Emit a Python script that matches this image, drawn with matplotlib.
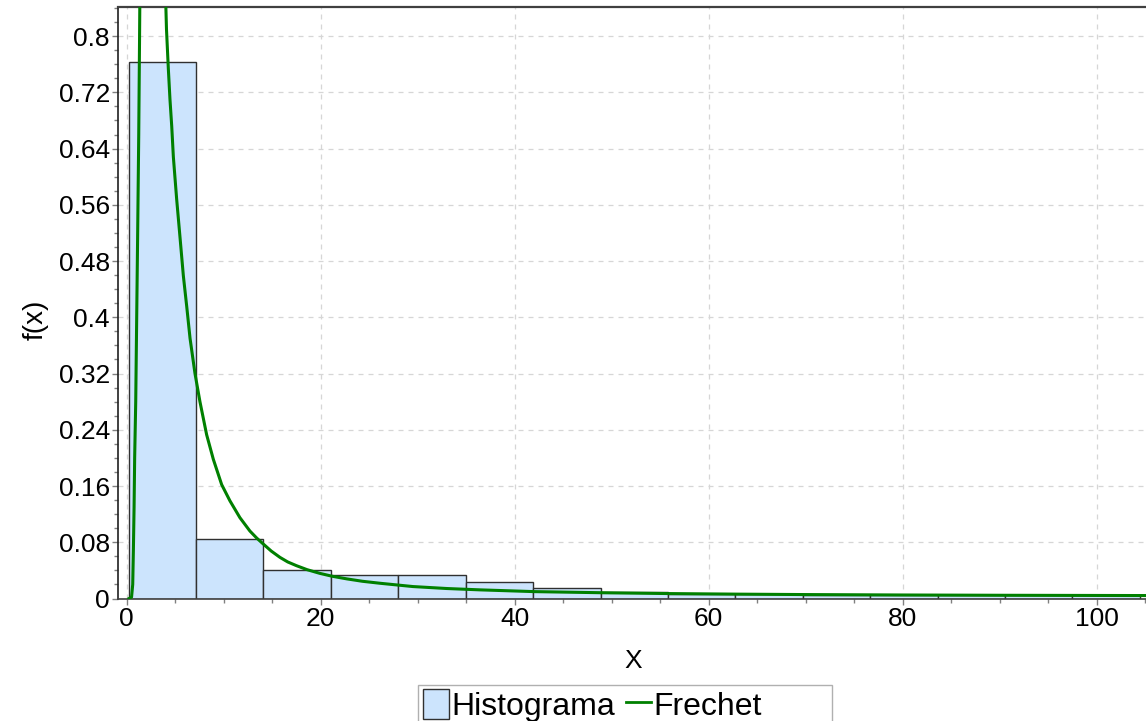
import numpy as np
import matplotlib
matplotlib.use("Agg")
from matplotlib import pyplot as plt
from matplotlib.patches import Patch, Rectangle
from matplotlib.lines import Line2D
from matplotlib.ticker import MultipleLocator

plt.rcParams['font.family'] = ['Liberation Sans', 'DejaVu Sans']

# histogram bins (edges) and relative frequencies
bin_edges = [0.2, 7.15, 14.1, 21.05, 28.0, 34.95, 41.9, 48.85, 55.8,
             62.75, 69.7, 76.65, 83.6, 90.55, 97.5, 104.45]
bin_heights = [0.763, 0.0845, 0.0405, 0.033, 0.033, 0.023, 0.0155, 0.0095,
               0.0065, 0.0058, 0.005, 0.005, 0.0045, 0.0045, 0.0045]

# fitted Frechet density (peak is off the top)
curve_x = [0.24, 0.5, 0.62, 0.69, 0.76, 0.82, 0.93, 1.03, 1.13, 1.24, 1.32, 1.36,
           4.0, 4.1, 4.29, 4.46, 4.64, 4.81, 5.15, 5.5, 5.84, 6.19, 6.53, 7.04,
           7.55, 8.24, 8.93, 9.79, 10.64, 11.67, 12.7, 13.4, 14.08, 14.9, 15.8,
           16.6, 17.5, 18.6, 19.9, 21.2, 22.7, 24.3, 26.1, 29.5, 33.0, 36.4,
           42, 49, 56, 63, 70, 80, 90, 105]
curve_y = [0.0, 0.002, 0.02, 0.07, 0.13, 0.2, 0.28, 0.4, 0.52, 0.66, 0.79, 0.86,
           0.86, 0.81, 0.754, 0.71, 0.672, 0.628, 0.568, 0.513, 0.459, 0.415, 0.37, 0.32,
           0.28, 0.233, 0.198, 0.162, 0.139, 0.115, 0.096, 0.086, 0.0775, 0.0675, 0.0585,
           0.052, 0.0467, 0.041, 0.0358, 0.0316, 0.0279, 0.0245, 0.0217, 0.017, 0.0142,
           0.0123, 0.0098, 0.0082, 0.007, 0.0062, 0.0056, 0.005, 0.0046, 0.0042]

x_ticks = [0, 20, 40, 60, 80, 100]
y_ticks = [0, 0.08, 0.16, 0.24, 0.32, 0.4, 0.48, 0.56, 0.64, 0.72, 0.8]
y_tick_labels = ['0', '0.08', '0.16', '0.24', '0.32', '0.4', '0.48', '0.56', '0.64', '0.72', '0.8']

bar_color = '#cce4fd'
curve_color = '#008000'

fig = plt.figure(figsize=(11.46, 7.21), dpi=100)
ax = fig.add_axes([0.1032, 0.1699, 0.8968, 0.82])

edges = np.array(bin_edges)
ax.bar(edges[:-1], bin_heights, width=np.diff(edges), align='edge',
       color=bar_color, edgecolor='#303030', linewidth=1.0, zorder=2)
ax.plot(curve_x, curve_y, color=curve_color, linewidth=2.2, zorder=3)

ax.set_xlim(-0.87, 105.08)
ax.set_ylim(0, 0.841)

ax.set_xticks(x_ticks)
ax.set_yticks(y_ticks)
ax.set_yticklabels(y_tick_labels)
ax.xaxis.set_minor_locator(MultipleLocator(5))
ax.yaxis.set_minor_locator(MultipleLocator(0.02))
ax.tick_params(which='both', direction='out', colors='#808080', labelcolor='black',
               labelsize=19, width=1)
ax.tick_params(which='major', length=4, pad=2)
ax.tick_params(which='minor', length=3)

ax.grid(True, which='major', color='#d6d6d6', linestyle=(0, (4, 4)), linewidth=0.9)
ax.set_axisbelow(True)

ax.spines['right'].set_visible(False)
ax.spines['top'].set_color('#404040')
ax.spines['top'].set_linewidth(1.6)
ax.spines['left'].set_color('#202020')
ax.spines['bottom'].set_color('#404040')
ax.spines['left'].set_linewidth(1.2)
ax.spines['bottom'].set_linewidth(1.2)

ax.set_xlabel('X', fontsize=19)
ax.set_ylabel('f(x)', fontsize=20)
ax.xaxis.set_label_coords(0.501, -0.085)
ax.yaxis.set_label_coords(-0.068, 0.471)

# legend box sits partly below the figure edge, like the original
fig.patches.append(Rectangle((418 / 1146, -0.02), 414 / 1146, 0.02 + 1 - 684.6 / 721,
                             transform=fig.transFigure, facecolor='white',
                             edgecolor='#b0b0b0', linewidth=1.0, zorder=0))

handles = [Patch(facecolor=bar_color, edgecolor='#303030', linewidth=1.0),
           Line2D([], [], color=curve_color, linewidth=2)]
leg = fig.legend(handles, ['Histograma', 'Frechet'], loc='upper left',
                 bbox_to_anchor=(423 / 1146, 1 - 689 / 721), ncol=2, fontsize=23,
                 frameon=False, handlelength=0.8, handleheight=1.05, handletextpad=0.08,
                 columnspacing=0.34, borderpad=0, borderaxespad=0)

fig.savefig('out.png', dpi=100)
